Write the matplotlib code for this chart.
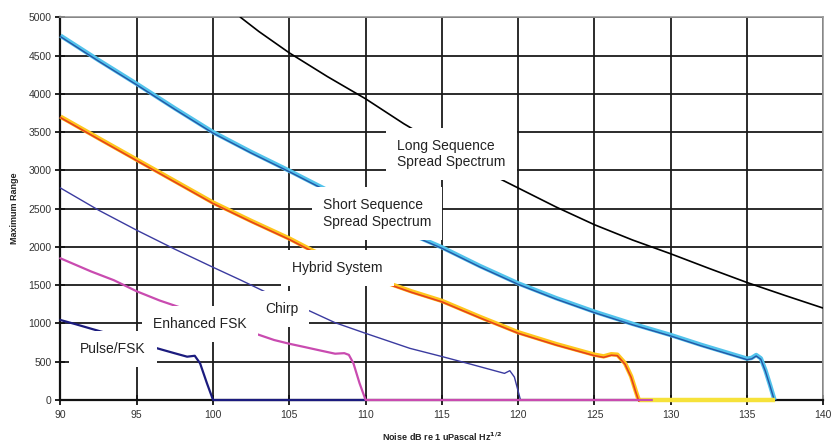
import matplotlib
matplotlib.use("Agg")
import matplotlib.pyplot as plt
import matplotlib.transforms as mtransforms
import numpy as np

plt.rcParams['font.family'] = ['Liberation Sans', 'DejaVu Sans']

# ---- data ----
x_ticks = list(range(90, 141, 5))
y_ticks = list(range(0, 5001, 500))

long_x = [101.8, 103, 105, 107.5, 110, 112.5, 115, 117.5, 120, 122.5, 125, 127.5, 130, 132.5, 135, 137.5, 140]
long_y = [5000, 4815, 4535, 4225, 3935, 3610, 3315, 3020, 2770, 2520, 2290, 2090, 1910, 1720, 1535, 1365, 1200]

short_x = [90, 92.5, 95, 97.5, 100, 102.5, 105, 107.5, 110, 112.5, 115, 117.5, 120, 122.5, 125, 127.5, 130, 132, 134, 135, 135.3, 135.6, 135.9, 136.2, 136.5, 136.8]
short_y = [4760, 4440, 4130, 3810, 3500, 3240, 2995, 2740, 2480, 2210, 1995, 1750, 1524, 1330, 1154, 995, 849, 720, 600, 540, 550, 588, 545, 390, 200, 0]

hyb_x = [90, 92.5, 95, 97.5, 100, 102.5, 105, 106.6, 108.5, 111.2, 113, 115, 117.5, 120, 122.5, 125, 125.6, 126.1, 126.5, 127.0, 127.4, 127.7, 127.9]
hyb_y = [3702, 3420, 3140, 2860, 2580, 2340, 2110, 1944, 1770, 1546, 1420, 1295, 1085, 885, 730, 592, 570, 598, 592, 480, 310, 120, 0]
hyb_tail_x = [127.9, 136.8]
hyb_tail_y = [0, 0]

chirp_x = [90, 92.5, 95, 97.5, 100, 101.8, 103.4, 105.5, 108, 110, 112.9, 115, 117, 119.1, 119.45, 119.75, 120.15, 128]
chirp_y = [2770, 2480, 2218, 1970, 1734, 1568, 1415, 1240, 1010, 871, 675, 568, 462, 348, 383, 300, 0, 0]

efsk_x = [90, 92, 93.5, 95, 96.5, 98.2, 100, 102, 104, 105, 106, 107, 108, 108.6, 108.9, 109.2, 109.6, 110.0, 128.75]
efsk_y = [1851, 1680, 1565, 1420, 1300, 1185, 1060, 920, 784, 735, 692, 648, 605, 612, 590, 480, 220, 0, 0]

pulse_x = [90, 91, 92, 93, 94, 95, 96, 96.7, 97.5, 98.3, 98.8, 99.15, 99.6, 100.0, 110]
pulse_y = [1045, 990, 932, 875, 815, 755, 695, 655, 610, 566, 578, 479, 218, 0, 0]

labels = ["Long Sequence\nSpread Spectrum", "Short Sequence\nSpread Spectrum", "Hybrid System",
          "Chirp", "Enhanced FSK", "Pulse/FSK"]
label_x = [112.06, 107.2, 105.17, 103.4, 96.06, 91.28]
label_y = [3214, 2437, 1725, 1189, 993, 666]

# ---- figure ----
fig = plt.figure(figsize=(8.32, 4.45), dpi=100)
ax = fig.add_axes([0.0727, 0.1011, 0.9896 - 0.0727, 0.9611 - 0.1011])

ax.set_xlim(90, 140)
ax.set_ylim(0, 5000)
ax.set_xticks(x_ticks)
ax.set_yticks(y_ticks)
ax.grid(True, color='#1a1a1a', linewidth=1.3)
ax.set_axisbelow(True)

down = mtransforms.offset_copy(ax.transData, fig=fig, x=0, y=-0.7, units='points')

ax.plot(long_x, long_y, color='black', lw=1.2, zorder=3)
ax.plot(short_x, short_y, color='#52c3ec', lw=3.2, zorder=3, solid_capstyle='butt', clip_on=False)
ax.plot(short_x, short_y, color='#2456a6', lw=1.0, zorder=3, transform=down, clip_on=False)
ax.plot(hyb_tail_x, hyb_tail_y, color='#f6e23a', lw=3.2, zorder=3, solid_capstyle='butt', clip_on=False)
ax.plot(hyb_x, hyb_y, color='#ffc61c', lw=3.2, zorder=3, solid_capstyle='butt', clip_on=False)
ax.plot(hyb_x, hyb_y, color='#e5421c', lw=1.2, zorder=3, transform=down, clip_on=False)
ax.plot(chirp_x, chirp_y, color='#3b3ba0', lw=1.0, zorder=3, clip_on=False)
ax.plot(pulse_x, pulse_y, color='#1b1b7e', lw=1.6, zorder=3, clip_on=False)
ax.plot(efsk_x, efsk_y, color='#c94bb0', lw=1.6, zorder=4, clip_on=False)

for t, lx, ly in zip(labels, label_x, label_y):
    ax.text(lx, ly, t, ha='left', va='center', multialignment='left', fontsize=10,
            color='#222222', zorder=6, linespacing=1.2,
            bbox=dict(boxstyle='square,pad=0.8', fc='white', ec='none'))

for s in ['left', 'bottom']:
    ax.spines[s].set_color('#111111')
    ax.spines[s].set_linewidth(1.6)
for s in ['top', 'right']:
    ax.spines[s].set_color('#999999')
    ax.spines[s].set_linewidth(1.2)

ax.tick_params(axis='both', direction='inout', length=7, width=1.3, color='#111111',
               labelsize=7.5, labelcolor='#333333')
ax.tick_params(axis='x', pad=4)
ax.tick_params(axis='y', pad=3)

ax.set_ylabel('Maximum Range', fontsize=6.5, fontweight='bold', color='#222222', labelpad=7)
ax.set_xlabel(r'Noise dB re 1 uPascal Hz$^{\mathbf{1/2}}$', fontsize=6.5, fontweight='bold',
              color='#222222', labelpad=7)

fig.savefig('out.png', dpi=100)
